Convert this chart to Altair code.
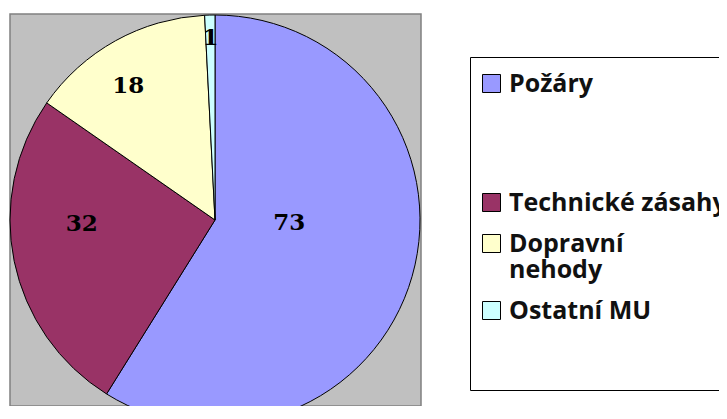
import altair as alt
import pandas as pd

categories = ["Požáry", "Technické zásahy", "Dopravní nehody", "Ostatní MU"]
values = [73, 32, 18, 1]
colors = ["#9999FF", "#993366", "#FFFFCC", "#CCFFFF"]

df = pd.DataFrame({"kat": categories, "pocet": values, "idx": list(range(len(categories)))})

CX, CY, R = 205, 206, 205
LH = 26  # legend line height

theta = alt.Theta("pocet:Q", stack=True)
order = alt.Order("idx:Q", sort="ascending")

label_expr = (
    "datum.label == 'Požáry' ? ['Požáry', '', '', ''] : "
    "datum.label == 'Dopravní nehody' ? ['Dopravní', 'nehody'] : "
    "datum.label == 'Ostatní MU' ? ['Ostatní MU', '', ''] : datum.label"
)

color = alt.Color(
    "kat:N",
    scale=alt.Scale(domain=categories, range=colors),
    legend=alt.Legend(
        orient="none", legendX=460, legendY=43, title=None,
        symbolType="square", symbolSize=324, symbolStrokeColor="black", symbolStrokeWidth=1,
        symbolOffset=-5,
        labelFont="Open Sans", labelFontWeight="bold", labelFontSize=25, labelColor="#111111",
        labelOffset=5, labelLimit=0, labelBaseline="top",
        strokeColor="black", fillColor="white", padding=14, rowPadding=15,
        labelExpr=label_expr,
    ),
)

base = alt.Chart(df)

pie = base.mark_arc(radius=R, stroke="black", strokeWidth=1).encode(
    theta=theta, order=order, color=color,
    x=alt.value(CX), y=alt.value(CY),
)

label_style = {
    "Požáry": (74, 3, -17),
    "Technické zásahy": (134, -2, -23),
    "Dopravní nehody": (160, -9, 6),
    "Ostatní MU": (182, 0, 0),
}

layers = [pie]
for kat, (rad, dx, dy) in label_style.items():
    layers.append(
        base.mark_text(radius=rad, dx=dx, dy=dy, font="DejaVu Serif", fontWeight="bold",
                       fontSize=23, color="black", align="center", baseline="middle")
        .transform_calculate(lab=f"datum.kat == '{kat}' ? '' + datum.pocet : ''")
        .encode(theta=theta, order=order, text="lab:N", x=alt.value(CX), y=alt.value(CY))
    )

chart = alt.layer(*layers).properties(
    width=411, height=392,
    padding={"left": 2, "top": 6, "right": 298, "bottom": 0},
    autosize="none",
).configure(style={"guide-label": {"dy": -12, "lineHeight": LH}}).configure_view(
    fill="#C0C0C0", stroke="#808080", strokeWidth=1.5
)

chart.save("out.html", embed_options={"renderer": "svg", "actions": False})
